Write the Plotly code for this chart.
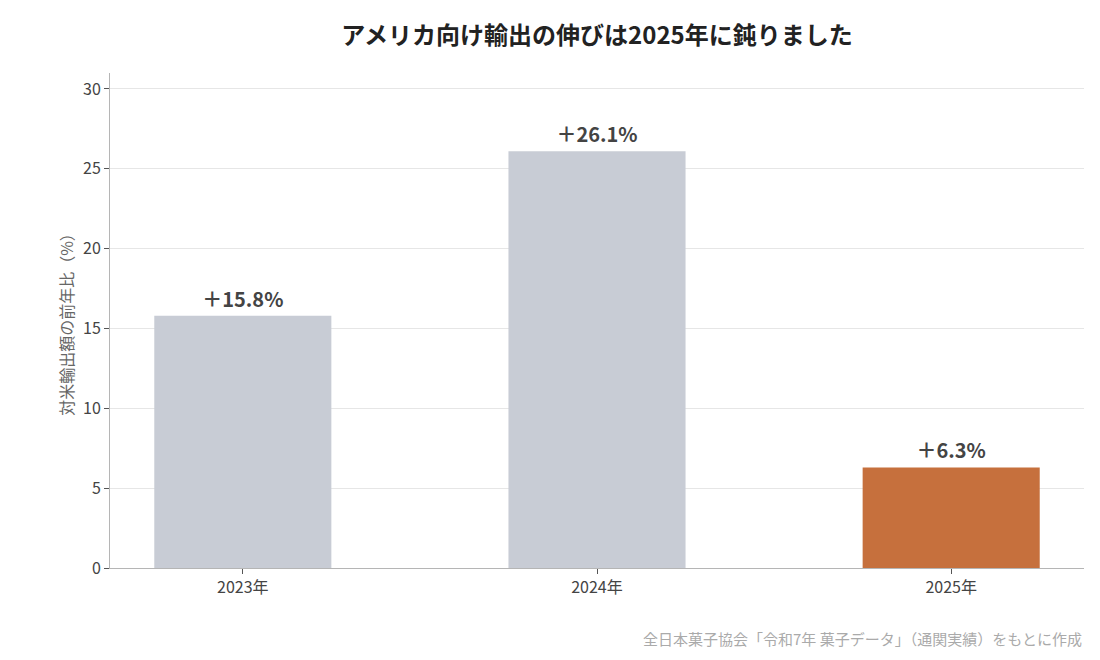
import plotly.graph_objects as go

years = ["2023年", "2024年", "2025年"]
growth = [15.8, 26.1, 6.3]
labels = ["＋15.8%", "＋26.1%", "＋6.3%"]
bar_colors = ["#c8ccd5", "#c8ccd5", "#c6703d"]

FONT = "Noto Sans CJK JP"

fig = go.Figure(
    go.Bar(
        x=years,
        y=growth,
        width=0.5,
        marker=dict(color=bar_colors, line=dict(width=0)),
        text=labels,
        textposition="outside",
        textfont=dict(family=FONT, size=20, color="#444444", weight="bold"),
        cliponaxis=False,
        hoverinfo="skip",
    )
)

# the page body adds an 8px offset, margins are set to make up for it
fig.update_layout(
    width=1100,
    height=660,
    margin=dict(l=102, r=24, t=65, b=100),
    paper_bgcolor="white",
    plot_bgcolor="white",
    font=dict(family=FONT, color="#555555"),
    title=dict(
        text="アメリカ向け輸出の伸びは2025年に鈍りました",
        x=0.5,
        xref="paper",
        xanchor="center",
        y=0.9576,
        yanchor="middle",
        font=dict(family=FONT, size=24, color="#222222", weight="bold"),
    ),
    showlegend=False,
    xaxis=dict(
        range=[-0.375, 2.375],
        showline=True,
        linecolor="#b5b5b5",
        linewidth=1,
        ticks="outside",
        ticklen=5,
        tickcolor="#555555",
        tickfont=dict(size=16, color="#444444"),
        showgrid=False,
    ),
    yaxis=dict(
        range=[0, 31],
        dtick=5,
        showline=True,
        linecolor="#b5b5b5",
        linewidth=1,
        ticks="outside",
        ticklen=5,
        tickcolor="#555555",
        tickfont=dict(size=16, color="#444444"),
        gridcolor="#e6e6e6",
        zeroline=False,
        title=dict(
            text="対米輸出額の前年比（%）",
            font=dict(size=16, color="#666666"),
            standoff=5,
        ),
    ),
    bargap=0.5,
)

fig.add_annotation(
    text="全日本菓子協会「令和7年 菓子データ」（通関実績）をもとに作成",
    xref="paper",
    yref="paper",
    x=1,
    y=-0.1434,
    xanchor="right",
    yanchor="middle",
    showarrow=False,
    font=dict(family=FONT, size=15, color="#aaaaaa"),
)

fig.write_html("out.html")
